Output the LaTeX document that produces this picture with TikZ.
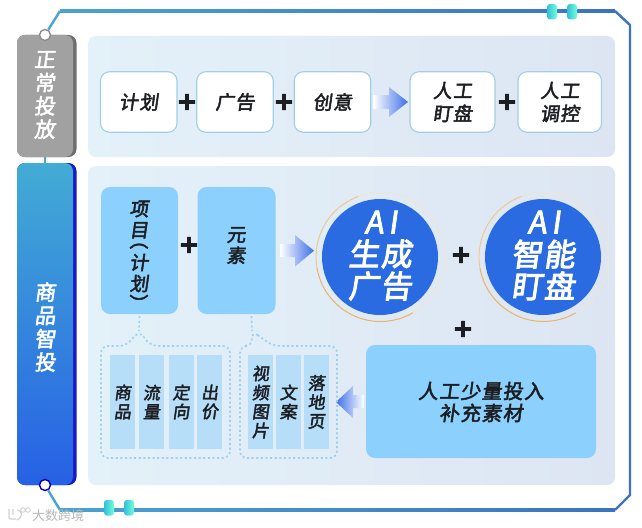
\documentclass[tikz,border=0pt]{standalone}
\usepackage{fontspec}
\usepackage{graphicx}
\newfontfamily\cjk[FakeSlant=0.14,LetterSpace=6,FakeBold=2.5]{Noto Sans CJK SC}
\newfontfamily\cjkb[FakeSlant=0.14,LetterSpace=5,FakeBold=3]{Noto Sans CJK SC}
\newfontfamily\cjkai[FakeSlant=0.14,LetterSpace=16,FakeBold=2.5]{Noto Sans CJK SC}
\newfontfamily\cjkw{Noto Sans CJK SC}
\newfontfamily\cjkbr[FakeBold=2.5]{Noto Sans CJK SC}
\newfontfamily\plusf[FakeBold=3]{DejaVu Sans Bold}
\definecolor{ink}{HTML}{1C1E22}
\definecolor{frameL}{HTML}{4AA3D0}
\definecolor{frameR}{HTML}{3B73BD}
\definecolor{panL}{HTML}{E3F1F9}
\definecolor{panR}{HTML}{DDE5F3}
\definecolor{boxline}{HTML}{A2CEE6}
\definecolor{skybox}{HTML}{8CD0FE}
\definecolor{cellc}{HTML}{B6DEF9}
\definecolor{dotc}{HTML}{9BD0F0}
\definecolor{ballc}{HTML}{2B6BE2}
\definecolor{arrowc}{HTML}{3D6EE8}
\definecolor{gold}{HTML}{E8B468}
\definecolor{goldl}{HTML}{F0E6D2}
\tikzset{
 panel/.style={rounded corners=8pt,left color=panL,right color=panR},
 whitebox/.style={draw=boxline,line width=1.1pt,fill=white,rounded corners=9pt,inner sep=0pt,align=center,text=ink,font=\cjk\fontsize{19}{23}\selectfont},
 bluebox/.style={fill=skybox,rounded corners=9pt,inner sep=0pt,align=center,text=ink},
 bluetext/.style={text=ink,inner sep=0pt,align=center,font=\cjk\fontsize{19}{21}\selectfont},
 brtext/.style={text=ink,inner sep=0pt,font=\cjkbr\fontsize{19}{19}\selectfont},
 cellbox/.style={fill=cellc,inner sep=0pt,align=center,text=ink,font=\cjk\fontsize{17}{19}\selectfont,minimum width=25pt,minimum height=94pt},
 plussign/.style={text=ink,inner sep=0pt,font=\plusf\fontsize{25}{25}\selectfont},
 tabtext/.style={text=white,inner sep=0pt,align=center,font=\cjk\fontsize{21}{23.3}\selectfont},
 ball/.style={circle,fill=ballc,minimum size=116pt,inner sep=0pt},
 balltext/.style={text=white,inner sep=0pt,align=center,font=\cjkb\fontsize{31}{32}\selectfont},
 aitext/.style={text=white,inner sep=0pt,font=\cjkai\fontsize{31}{32}\selectfont},
 dotline/.style={draw=dotc,line width=1.6pt,dash pattern=on 2pt off 2.6pt},
 ringdot/.style={circle,fill=white,minimum size=11pt,inner sep=0pt,line width=1.4pt},
}
\begin{document}
\begin{tikzpicture}[x=1pt,y=-1pt]
\useasboundingbox (0,0) rectangle (642,527);
\fill[white] (0,0) rectangle (642,527);
% frame
\coordinate (fa) at (60,11);
\coordinate (fb) at (615,11);
\coordinate (fc) at (630,25);
\coordinate (fd) at (630,495);
\coordinate (fe) at (615,510);
\coordinate (ff) at (60,510);
\shade[left color=frameL,right color=frameR] (60,9.8) rectangle (615,12.2);
\shade[left color=frameL,right color=frameR] (60,508.8) rectangle (615,511.2);
\draw[frameR,line width=2.4pt,line join=round] (fb) -- (fc) -- (fd) -- (fe);
% pills
\foreach \xa/\ya in {547/4,567/4,104/500,124/500}{
 \shade[rounded corners=3pt,left color=frameL!70!cyan,right color=green!30!cyan!55!white]
   (\xa,\ya) rectangle ++(10,15.5);
}
% panels
\path[panel] (88,36) rectangle (615,157);
\path[panel] (88,166) rectangle (615,485);
% left tabs
\coordinate (lk1) at (45,157);
\coordinate (lk2) at (45,163);
\draw[frameL,line width=2.2pt] (lk1) -- (lk2);
\fill[black!57,rounded corners=8pt] (17,35) rectangle (76.5,157);
\fill[black!37,rounded corners=8pt] (17,35) rectangle (73,157);
\fill[blue!75!black!90!white,rounded corners=8pt] (17,163) rectangle (76.5,485);
\shade[rounded corners=8pt,top color=frameL!90!cyan,bottom color=ballc!90!blue] (17,163) rectangle (73,485);
\node[tabtext] (tabA) at (44.5,95) {正\\常\\投\\放};
\node[tabtext] (tabB) at (45,327) {商\\品\\智\\投};
\node[ringdot,draw=black!45] (ca) at (45,35) {};
\node[ringdot,draw=blue!70!black] (cb) at (45,485) {};
\draw[frameL,line width=2.4pt,line join=round] (ca) -- (fa);
\draw[frameL,line width=2.4pt,line join=round] (cb) -- (ff);
% top row
\node[whitebox,minimum width=76.5pt,minimum height=60.5pt] (b1) at (138.75,102) {计划};
\node[whitebox,minimum width=76.5pt,minimum height=60.5pt] (b2) at (235,102) {广告};
\node[whitebox,minimum width=76.5pt,minimum height=60.5pt] (b3) at (332.5,102) {创意};
\node[whitebox,minimum width=85pt,minimum height=60.5pt] (b4) at (452.5,102) {人工\\盯盘};
\node[whitebox,minimum width=83.5pt,minimum height=60.5pt] (b5) at (559.75,102) {人工\\调控};
\node[plussign] (p1) at (187,102) {+};
\node[plussign] (p2) at (284,102) {+};
\node[plussign] (p3) at (507,102) {+};
\shade[left color=white,right color=arrowc] (373,95) -- (389,95) -- (389,87) -- (408,102) -- (389,117) -- (389,109) -- (373,109) -- cycle;
% lower row
\node[bluebox,minimum width=77pt,minimum height=127pt] (b6) at (139.5,250.5) {};
\node[bluetext] (t6a) at (139,219.5) {项\\目};
\node[brtext] (t6b) at (139,240) {\rotatebox{-90}{（}};
\node[bluetext] (t6c) at (139,273) {计\\划};
\node[brtext] (t6d) at (139,303.5) {\rotatebox{-90}{）}};
\node[bluebox,minimum width=78pt,minimum height=127pt] (b7) at (236.5,250.5) {};
\node[bluetext] (t7) at (236,245.5) {元\\素};
\node[plussign] (p4) at (189,245) {+};
\shade[left color=white,right color=arrowc] (280,244) -- (295,244) -- (295,235) -- (314,250.7) -- (295,266.5) -- (295,257) -- (280,257) -- cycle;
% balls
\foreach \cx in {380.5,543.5}{
 \draw[goldl,line width=.9pt] (\cx,257) circle[radius=64.5pt];
 \draw[gold!60!goldl,line width=.9pt] plot[domain=110:190,samples=30,smooth] ({\cx+64.5*cos(\x)},{257-64.5*sin(\x)});
 \draw[gold,line width=1pt] plot[domain=190:300,samples=30,smooth] ({\cx+64.5*cos(\x)},{257-64.5*sin(\x)});
}
\node[ball] (ai1) at (380,257) {};
\node[ball] (ai2) at (543,257) {};
\node[aitext] (a1) at (381,222) {AI};
\node[balltext] (a1t) at (380,270) {生成\\广告};
\node[aitext] (a2) at (544,222) {AI};
\node[balltext] (a2t) at (543,270) {智能\\盯盘};
\node[plussign] (p5) at (461,255) {+};
\node[plussign] (p6) at (463,329) {+};
% human box
\node[bluebox,minimum width=230pt,minimum height=113pt] (b8) at (481,401.5) {};
\node[bluetext,font=\cjk\fontsize{20}{22}\selectfont] (t8) at (481,402) {人工少量投入\\补充素材};
\shade[left color=arrowc,right color=white] (364,395) -- (353,395) -- (353,386) -- (336,402) -- (353,418) -- (353,408) -- (364,408) -- cycle;
% cells
\node[cellbox] (c1) at (122.5,402) {商\\品};
\node[cellbox] (c2) at (151.5,402) {流\\量};
\node[cellbox] (c3) at (181,402) {定\\向};
\node[cellbox] (c4) at (209.75,402) {出\\价};
\node[cellbox] (c5) at (260.5,402) {视\\频\\图\\片};
\node[cellbox,minimum width=24.5pt] (c6) at (288.25,402) {文\\案};
\node[cellbox,minimum width=24.5pt] (c7) at (316.25,402) {落\\地\\页};
% dotted groups
\coordinate (pk1) at (139,331);
\coordinate (pk2) at (252,331);
\draw[dotline] (b6.south) ++(0,2) -- (pk1);
\draw[dotline] (b7.south) ++(15,2) -- (pk2);
\draw[dotline,rounded corners=7pt] (pk1) -- (151,346) -- (230,346) -- (230,458) -- (101,458) -- (101,346) -- (126,346) -- cycle;
\draw[dotline,rounded corners=7pt] (pk2) -- (273,346) -- (337,346) -- (337,458) -- (240,458) -- (240,346) -- (252,346) -- cycle;
% watermark
\draw[black!18,line width=1.2pt,rounded corners=2pt] (9,509) -- (9,519) -- (16,519) (13,509) -- (13,515) (17,510) .. controls (23,510) and (23,518) .. (17,520);
\draw[black!18,line width=.9pt] (23,510) circle[radius=2.3pt] (28,510) circle[radius=2.3pt];
\node[text=black!28,inner sep=0pt,font=\cjkw\fontsize{13}{13}\selectfont] (wm) at (58,515.5) {大数跨境};
\end{tikzpicture}
\end{document}
